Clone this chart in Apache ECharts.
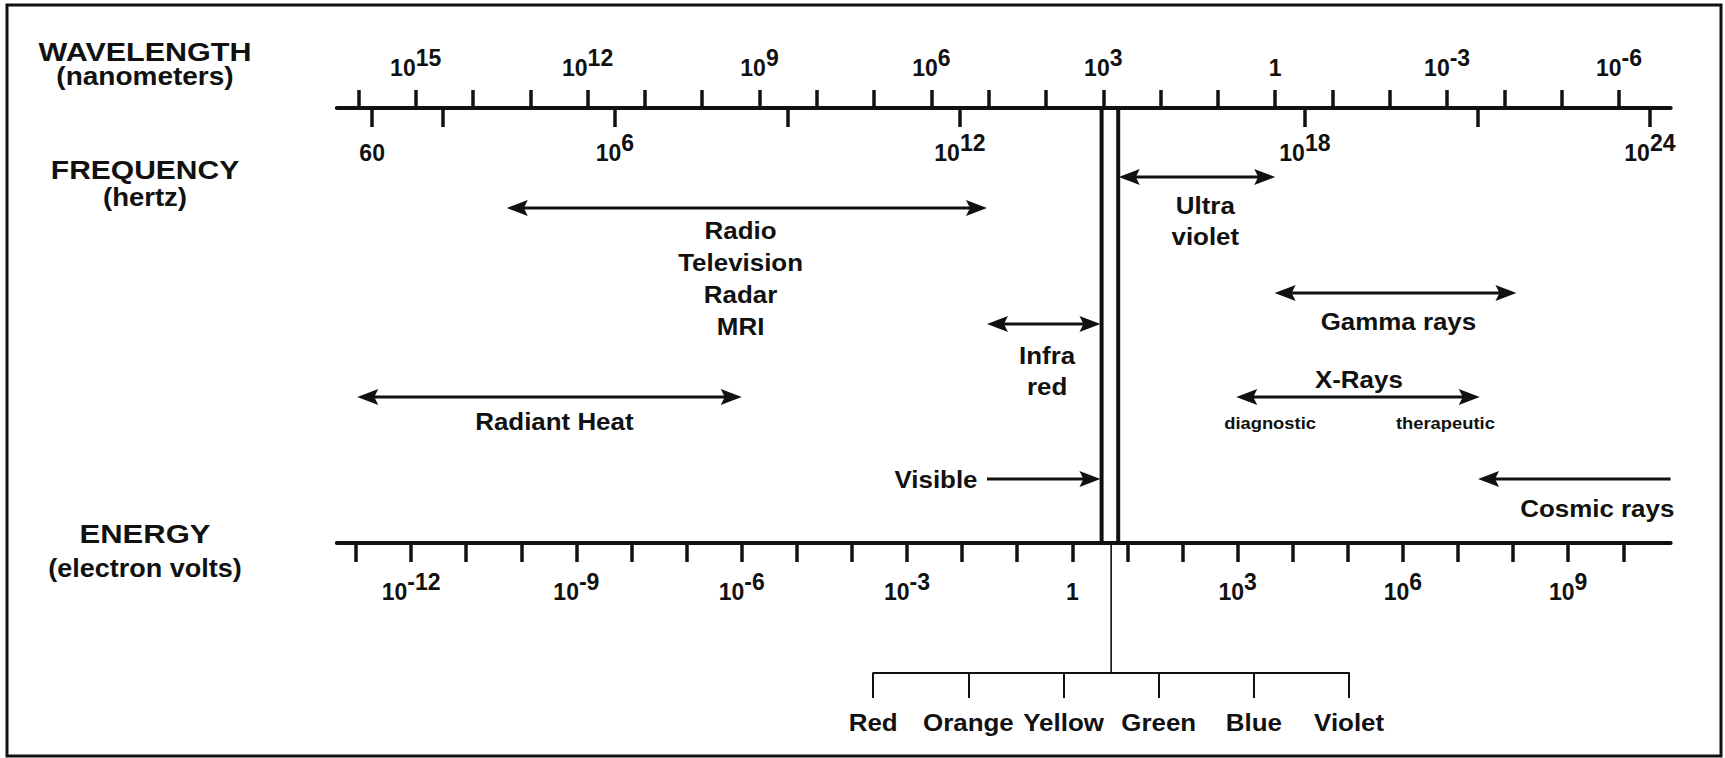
<!DOCTYPE html>
<html>
<head>
<meta charset="utf-8">
<script src="https://cdn.jsdelivr.net/npm/echarts@6/dist/echarts.min.js"></script>
<style>
html,body{margin:0;padding:0;background:#ffffff;}
#c{width:1725px;height:758px;}
</style>
</head>
<body>
<div id="c"></div>
<script>
// ---------------- DATA (all values are log10 exponents unless noted) ----------------
// Wavelength axis (nanometers): one tick per decade, labels every third decade
const wavelengthTickExps  = [16, 15, 14, 13, 12, 11, 10, 9, 8, 7, 6, 5, 4, 3, 2, 1, 0, -1, -2, -3, -4, -5, -6];
const wavelengthLabelExps = [15, 12, 9, 6, 3, 0, -3, -6];
// Frequency axis (hertz)
const frequencyTicksHz  = [60, 1e3, 1e6, 1e9, 1e12, 1e18, 1e21, 1e24];
const frequencyLabelsHz = [60, 1e6, 1e12, 1e18, 1e24];
// Energy axis (electron volts)
const energyTickExps  = [-13, -12, -11, -10, -9, -8, -7, -6, -5, -4, -3, -2, -1, 0, 1, 2, 3, 4, 5, 6, 7, 8, 9, 10];
const energyLabelExps = [-12, -9, -6, -3, 0, 3, 6, 9];

// Spectral bands (range arrows), in log10(wavelength / nm)
const bandNames   = ['Radio', 'Ultra violet', 'Infra red', 'Visible', 'Radiant Heat', 'Gamma rays', 'X-Rays', 'Cosmic rays'];
const bandFromExp = [13.41, 2.73, 5.03, 5.03, 16.02, 0.01, 0.68, -6.90];
const bandToExp   = [5.03, 0.00, 3.05, 3.05, 9.31, -4.21, -3.57, -3.54];
const bandHeads   = ['both', 'both', 'both', 'end', 'both', 'both', 'both', 'end'];

// Visible band edges (log10 nm)
const visibleBandExp = [3.03, 2.74];
// Visible colours
const visibleColors = ['Red', 'Orange', 'Yellow', 'Green', 'Blue', 'Violet'];

// Text annotations anchored on the wavelength scale (log10 nm)
const noteTexts = ['Radio\nTelevision\nRadar\nMRI', 'Ultra\nviolet', 'Infra\nred', 'Visible', 'Radiant Heat',
                   'Gamma rays', 'X-Rays', 'diagnostic', 'therapeutic', 'Cosmic rays'];
const noteExp   = [9.33, 1.22, 3.98, 5.92, 12.58, -2.15, -1.46, 0.09, -2.97, -5.62];

// Axis titles
const axisTitles = ['WAVELENGTH', '(nanometers)', 'FREQUENCY', '(hertz)', 'ENERGY', '(electron volts)'];

// ---------------- LAYOUT / STYLE ----------------
const FONT = "'Liberation Sans', Arial, Helvetica, sans-serif";
const INK = '#111111';
const layout = {
  grid: { left: 336.8, right: 54.3, top: 108, bottom: 215 },
  plotDepth: 435,
  wl:  { min: -6.902, max: 16.377 },
  fq:  { min: 1.163,  max: 24.362 },
  en:  { min: -13.348, max: 10.86 },
  bandRows: [100, 69, 216, 371, 289, 185, 289, 371],
  noteRows: [170.5, 113, 263, 371, 313, 213, 271, 315, 315, 400],
  noteSize: [24, 24, 24, 24, 24, 24, 24, 17, 17, 24],
  noteLH:   [32, 31, 31, 24, 24, 24, 24, 18, 18, 24],
  noteStretch: 1.08,
  titleX: 145,
  titleY: [52, 77, 170, 197, 535, 568],
  titleSize: [25, 25, 25, 25, 25, 25],
  titleStretch: [1.22, 1.12, 1.2, 1.1, 1.24, 1.08],
  colorGrid: { left: 873.2, right: 375.9, top: 673, height: 25 },
  colorLabelGap: 24,
  stemLength: 130
};

const tickRich = {
  b: { fontSize: 23, fontWeight: 'bold', fontFamily: FONT, color: INK, lineHeight: 33, verticalAlign: 'bottom' },
  s: { fontSize: 23, fontWeight: 'bold', fontFamily: FONT, color: INK, verticalAlign: 'top' }
};
function expLabel(exp) {
  return exp === 0 ? '{b|1}' : '{b|10}{s|' + exp + '}';
}
function freqLabel(v) {
  for (const hz of frequencyLabelsHz) {
    if (Math.abs(Math.log10(hz) - v) < 1e-6) {
      const e = Math.round(Math.log10(hz));
      if (Math.abs(Math.pow(10, e) - hz) / hz < 1e-9) return expLabel(e);
      return '{b|' + hz + '}';
    }
  }
  return '';
}

function arrowHead(tip, from, color) {
  const L = 21, W = 8, N = 4;
  const dx = tip[0] - from[0], dy = tip[1] - from[1];
  const len = Math.hypot(dx, dy) || 1;
  const ux = dx / len, uy = dy / len, px = -uy, py = ux;
  return {
    type: 'polygon',
    shape: { points: [
      [tip[0], tip[1]],
      [tip[0] - L * ux + W * px, tip[1] - L * uy + W * py],
      [tip[0] - (L - N) * ux, tip[1] - (L - N) * uy],
      [tip[0] - L * ux - W * px, tip[1] - L * uy - W * py]
    ] },
    style: { fill: color }
  };
}

const chart = echarts.init(document.getElementById('c'), null, { renderer: 'svg', width: 1725, height: 758 });

const titleGraphics = axisTitles.map((t, i) => ({
  type: 'text', x: layout.titleX, y: layout.titleY[i], scaleX: layout.titleStretch[i], scaleY: 1,
  style: { text: t, fontSize: layout.titleSize[i], fontWeight: 'bold', fontFamily: FONT, fill: INK, align: 'center', verticalAlign: 'middle' }
}));

const option = {
  animation: false,
  backgroundColor: '#ffffff',
  grid: [
    { left: layout.grid.left, right: layout.grid.right, top: layout.grid.top, bottom: layout.grid.bottom },
    { left: layout.colorGrid.left, right: layout.colorGrid.right, top: layout.colorGrid.top, height: layout.colorGrid.height }
  ],
  xAxis: [
    { // wavelength
      gridIndex: 0, type: 'value', position: 'top', inverse: true,
      min: layout.wl.min, max: layout.wl.max,
      axisLine: { show: true, onZero: false, lineStyle: { color: INK, width: 4 } },
      axisTick: { show: true, inside: false, length: 18, customValues: wavelengthTickExps, lineStyle: { color: INK, width: 3.5 } },
      axisLabel: { show: true, margin: 29, customValues: wavelengthLabelExps, formatter: v => expLabel(Math.round(v)), rich: tickRich, color: INK },
      splitLine: { show: false }
    },
    { // frequency
      gridIndex: 0, type: 'value', position: 'top',
      min: layout.fq.min, max: layout.fq.max,
      axisLine: { show: false, onZero: false },
      axisTick: { show: true, inside: true, length: 19, customValues: frequencyTicksHz.map(Math.log10), lineStyle: { color: INK, width: 3.5 } },
      axisLabel: { show: true, inside: true, margin: 23, customValues: frequencyLabelsHz.map(Math.log10), formatter: freqLabel, rich: tickRich, color: INK },
      splitLine: { show: false }
    },
    { // energy
      gridIndex: 0, type: 'value', position: 'bottom',
      min: layout.en.min, max: layout.en.max,
      axisLine: { show: true, onZero: false, lineStyle: { color: INK, width: 4 } },
      axisTick: { show: true, inside: false, length: 19, customValues: energyTickExps, lineStyle: { color: INK, width: 3.5 } },
      axisLabel: { show: true, margin: 27, customValues: energyLabelExps, formatter: v => expLabel(Math.round(v)), rich: tickRich, color: INK },
      splitLine: { show: false }
    },
    { // visible colours bracket
      gridIndex: 1, type: 'category', position: 'top', data: visibleColors, boundaryGap: false,
      axisLine: { show: true, onZero: false, lineStyle: { color: INK, width: 2 } },
      axisTick: { show: true, inside: true, length: 25, interval: 0, lineStyle: { color: INK, width: 2 } },
      axisLabel: { show: false },
      splitLine: { show: false }
    }
  ],
  yAxis: [
    { gridIndex: 0, type: 'value', min: 0, max: layout.plotDepth, inverse: true, show: false },
    { gridIndex: 1, type: 'value', min: 0, max: 1, show: false }
  ],
  graphic: [
    { type: 'rect', shape: { x: 7, y: 5, width: 1714, height: 751 }, style: { fill: 'none', stroke: INK, lineWidth: 3 }, silent: true }
  ].concat(titleGraphics),
  series: [
    { // visible band (double vertical lines)
      type: 'custom', name: 'visible band', xAxisIndex: 0, yAxisIndex: 0, clip: false,
      data: visibleBandExp.map(v => [v]), encode: { x: 0 },
      renderItem: function (params, api) {
        const p = api.coord([api.value(0), 0]);
        const cs = params.coordSys;
        return { type: 'line', shape: { x1: p[0], y1: cs.y, x2: p[0], y2: cs.y + cs.height }, style: { stroke: INK, lineWidth: 4 } };
      }
    },
    { // band arrows
      type: 'custom', name: 'bands', xAxisIndex: 0, yAxisIndex: 0, clip: false,
      data: bandFromExp.map((f, i) => ({ name: bandNames[i], value: [f, bandToExp[i], layout.bandRows[i]] })),
      encode: { x: [0, 1], y: 2 },
      renderItem: function (params, api) {
        const i = params.dataIndex;
        const a = api.coord([api.value(0), api.value(2)]);
        const b = api.coord([api.value(1), api.value(2)]);
        const both = bandHeads[i] === 'both';
        const dx = b[0] - a[0], dy = b[1] - a[1];
        const len = Math.hypot(dx, dy) || 1;
        const ux = dx / len, uy = dy / len;
        const s = both ? [a[0] + 8 * ux, a[1] + 8 * uy] : a;
        const e = [b[0] - 8 * ux, b[1] - 8 * uy];
        const children = [
          { type: 'line', shape: { x1: s[0], y1: s[1], x2: e[0], y2: e[1] }, style: { stroke: INK, lineWidth: 3 } },
          arrowHead(b, a, INK)
        ];
        if (both) children.push(arrowHead(a, b, INK));
        return { type: 'group', children: children };
      }
    },
    { // text notes
      type: 'custom', name: 'notes', xAxisIndex: 0, yAxisIndex: 0, clip: false,
      data: noteExp.map((x, i) => ({ name: noteTexts[i], value: [x, layout.noteRows[i]] })),
      encode: { x: 0, y: 1 },
      renderItem: function (params, api) {
        const i = params.dataIndex;
        const p = api.coord([api.value(0), api.value(1)]);
        return {
          type: 'text', x: p[0], y: p[1], scaleX: layout.noteStretch, scaleY: 1,
          style: { text: noteTexts[i], fontSize: layout.noteSize[i], fontWeight: 'bold', fontFamily: FONT, fill: INK,
                   align: 'center', verticalAlign: 'middle', lineHeight: layout.noteLH[i] }
        };
      }
    },
    { // stem from the visible band down to the colour bracket
      type: 'custom', name: 'stem', xAxisIndex: 3, yAxisIndex: 1, clip: false,
      data: [[0, 1]], encode: { x: 0, y: 1 },
      renderItem: function (params, api) {
        const a = api.coord([0, 1]);
        const b = api.coord([visibleColors.length - 1, 1]);
        const x = (a[0] + b[0]) / 2;
        const y = params.coordSys.y;
        return { type: 'line', shape: { x1: x, y1: y - layout.stemLength, x2: x, y2: y }, style: { stroke: INK, lineWidth: 1.6 } };
      }
    },
    { // colour names under the bracket
      type: 'custom', name: 'colours', xAxisIndex: 3, yAxisIndex: 1, clip: false,
      data: visibleColors.map((c, i) => ({ name: c, value: [i, 0] })), encode: { x: 0, y: 1 },
      renderItem: function (params, api) {
        const p = api.coord([api.value(0), 0]);
        const cs = params.coordSys;
        return {
          type: 'text', x: p[0], y: cs.y + cs.height + layout.colorLabelGap, scaleX: layout.noteStretch, scaleY: 1,
          style: { text: visibleColors[params.dataIndex], fontSize: 24, fontWeight: 'bold', fontFamily: FONT, fill: INK, align: 'center', verticalAlign: 'middle' }
        };
      }
    }
  ]
};
chart.setOption(option);
</script>
</body>
</html>
